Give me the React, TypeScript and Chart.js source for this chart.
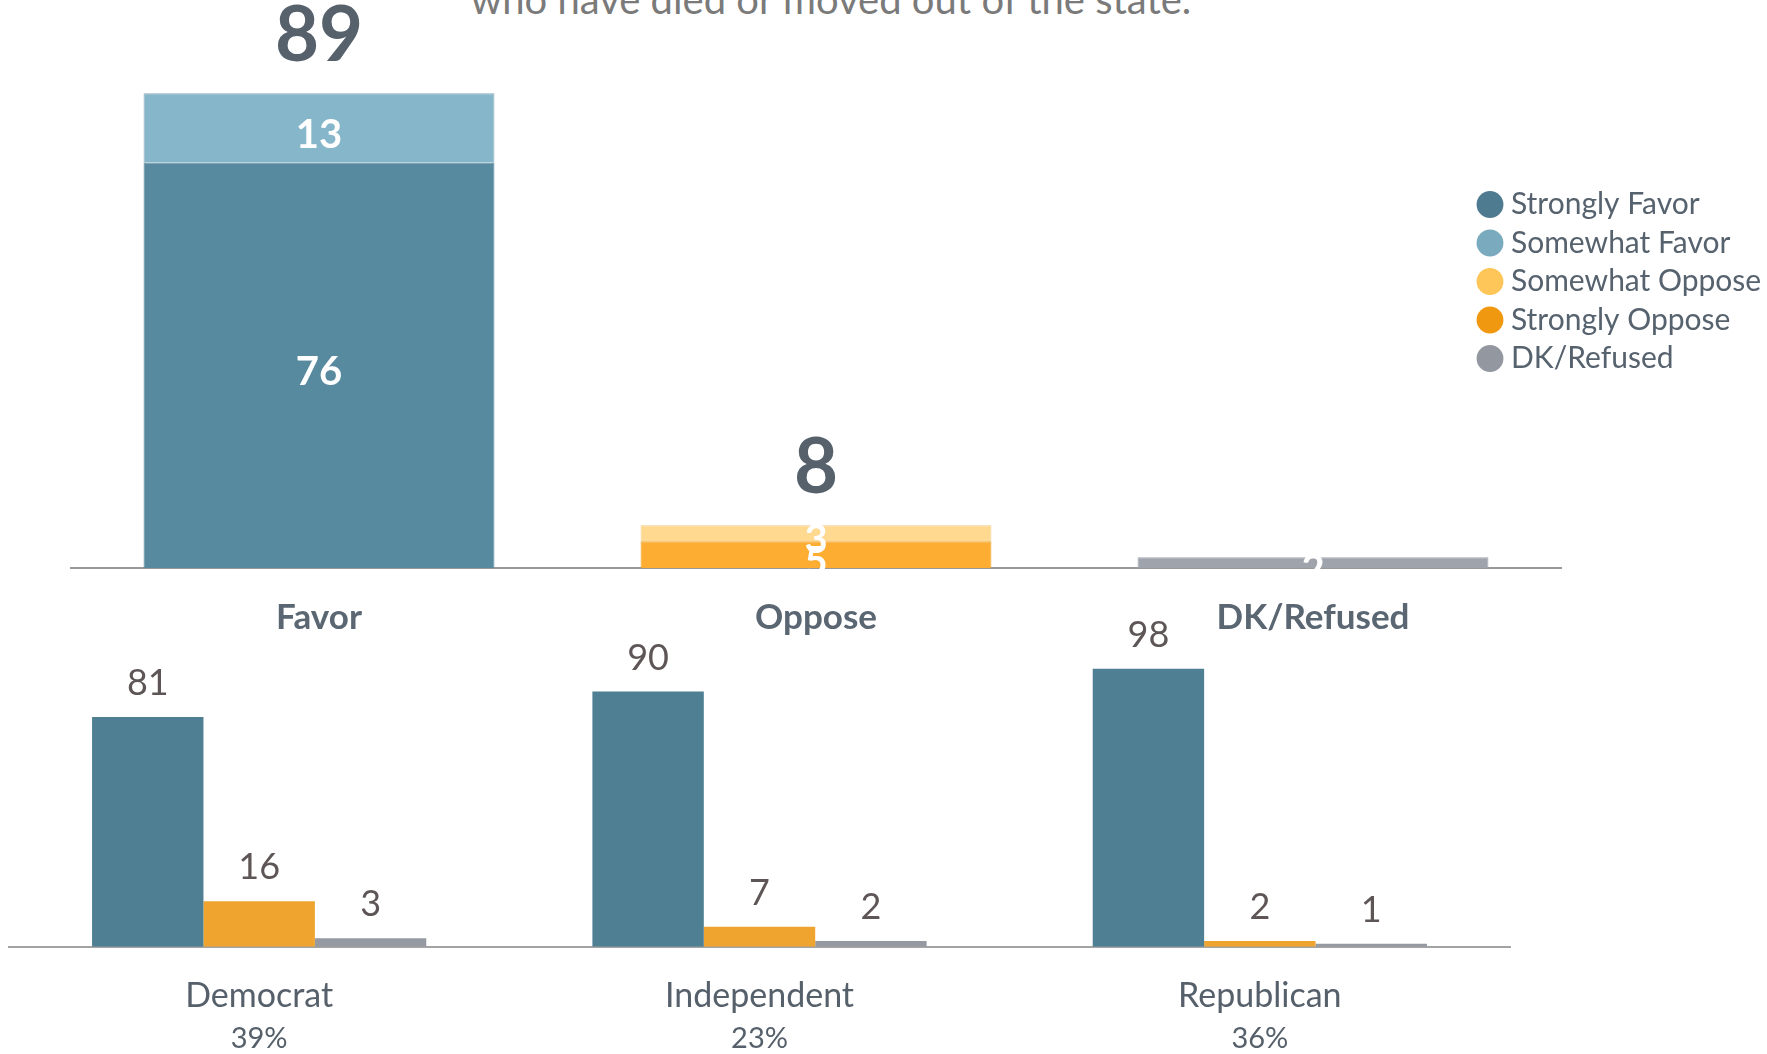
import React, { useEffect, useRef } from "react";
import { Chart, registerables } from "chart.js";

Chart.register(...registerables);

const FONT = "Lato, 'Open Sans', sans-serif";

// ---- Top chart data ----
const topCategories = ["Favor", "Oppose", "DK/Refused"];
const strongFavor = [76, null, null];
const somewhatFavor = [13, null, null];
const strongOppose = [null, 5, null];
const somewhatOppose = [null, 3, null];
const dkRefused = [null, null, 2];
const topTotals = [89, 8, null];

const legendOrder = ["Strongly Favor", "Somewhat Favor", "Somewhat Oppose", "Strongly Oppose", "DK/Refused"];
const legendColors = ["#4e7b8f", "#7aaabe", "#fec658", "#f0980f", "#9398a0"];

// ---- Bottom chart data ----
const partyCategories = ["Democrat", "Independent", "Republican"];
const partyShares = ["39%", "23%", "36%"];
const partyFavor = [81, 90, 98];
const partyOppose = [16, 7, 2];
const partyDK = [3, 2, 1];

const titleLine = "who have died or moved out of the state.";

const TOP_W = 1767;
const TOP_H = 668;
const BOT_TOP = 600;
const BOT_H = 454;

const legendPlacer = {
  id: "legendPlacer",
  afterLayout(chart: any) {
    const lg = chart.legend;
    if (!lg) return;
    const w = lg.width;
    const h = lg.height;
    lg.left = 1475.5;
    lg.top = 181;
    lg.right = lg.left + w;
    lg.bottom = lg.top + h;
  },
};

const topLabels = {
  id: "topLabels",
  afterDatasetsDraw(chart: any) {
    const ctx = chart.ctx;
    ctx.save();
    ctx.textAlign = "center";
    ctx.fillStyle = "#ffffff";
    ctx.font = `bold 40px ${FONT}`;
    ctx.textBaseline = "middle";
    chart.data.datasets.forEach((ds: any, di: number) => {
      const meta = chart.getDatasetMeta(di);
      ds.data.forEach((v: any, i: number) => {
        if (v == null) return;
        const el = meta.data[i];
        ctx.fillText(String(v), el.x, (el.y + el.base) / 2 + 7);
      });
    });
    ctx.fillStyle = "#56616c";
    ctx.font = `bold 76px ${FONT}`;
    ctx.textBaseline = "alphabetic";
    topTotals.forEach((t, i) => {
      if (t == null) return;
      const x = chart.scales.x.getPixelForValue(i);
      const y = chart.scales.y.getPixelForValue(t);
      ctx.fillText(String(t), x, y - 32.5);
    });
    ctx.restore();
  },
};

const botLabels = {
  id: "botLabels",
  afterDatasetsDraw(chart: any) {
    const ctx = chart.ctx;
    ctx.save();
    ctx.textAlign = "center";
    ctx.textBaseline = "alphabetic";
    ctx.fillStyle = "#5e5656";
    ctx.font = `36px ${FONT}`;
    chart.data.datasets.forEach((ds: any, di: number) => {
      const meta = chart.getDatasetMeta(di);
      ds.data.forEach((v: any, i: number) => {
        if (v == null) return;
        const el = meta.data[i];
        ctx.fillText(String(v), el.x, el.y - 22);
      });
    });
    ctx.restore();
  },
};

export default function App() {
  const topRef = useRef<HTMLCanvasElement | null>(null);
  const botRef = useRef<HTMLCanvasElement | null>(null);

  useEffect(() => {
    if (!topRef.current || !botRef.current) return;
    const topChart = new Chart(topRef.current, {
      type: "bar",
      data: {
        labels: topCategories,
        datasets: [
          { label: "Strongly Favor", data: strongFavor, backgroundColor: "#578a9f", borderColor: "#52849a", borderWidth: 1 },
          { label: "Somewhat Favor", data: somewhatFavor, backgroundColor: "#86b6ca", borderColor: "#8aaab6", borderWidth: 1 },
          { label: "Strongly Oppose", data: strongOppose, backgroundColor: "#fcad32", borderColor: "#eca02a", borderWidth: 1 },
          { label: "Somewhat Oppose", data: somewhatOppose, backgroundColor: "#fed98f", borderColor: "#f1cf8e", borderWidth: 1 },
          { label: "DK/Refused", data: dkRefused, backgroundColor: "#9fa4ac", borderColor: "#9fa4ac", borderWidth: 1 },
        ],
      } as any,
      options: {
        responsive: false,
        animation: false,
        layout: { padding: { left: 70.5, right: 205.5, top: 34.6, bottom: 0 } },
        datasets: { bar: { categoryPercentage: 1, barPercentage: 0.706 } } as any,
        scales: {
          x: {
            stacked: true,
            grid: { display: false, drawTicks: false },
            border: { display: true, color: "#999999", width: 2 },
            ticks: { padding: 29, color: "#5a6672", font: { family: FONT, size: 35, weight: "bold" } },
            afterFit: (s: any) => {
              s.height = 100;
            },
          },
          y: { stacked: true, display: false, min: 0, max: 100 },
        } as any,
        plugins: {
          tooltip: { enabled: false },
          legend: {
            position: "chartArea",
            align: "start",
            labels: {
              usePointStyle: true,
              pointStyle: "circle",
              boxWidth: 12,
              boxHeight: 19,
              padding: 8.5,
              color: "#56626e",
              font: { family: FONT, size: 30 },
              generateLabels: (chart: any) =>
                legendOrder.map((name, i) => {
                  const dsIndex = chart.data.datasets.findIndex((d: any) => d.label === name);
                  return {
                    text: name,
                    fillStyle: legendColors[i],
                    strokeStyle: legendColors[i],
                    lineWidth: 0,
                    pointStyle: "circle",
                    hidden: false,
                    datasetIndex: dsIndex,
                    fontColor: "#56626e",
                  };
                }),
            },
          },
        } as any,
      },
      plugins: [legendPlacer, topLabels],
    });

    const botChart = new Chart(botRef.current, {
      type: "bar",
      data: {
        labels: partyCategories,
        datasets: [
          { label: "Favor", data: partyFavor, backgroundColor: "#4f7f93" },
          { label: "Oppose", data: partyOppose, backgroundColor: "#eea42e" },
          { label: "DK/Refused", data: partyDK, backgroundColor: "#9499a2" },
        ],
      },
      options: {
        responsive: false,
        animation: false,
        layout: { padding: { left: 9, right: 257, top: 63.2, bottom: 0.3 } },
        datasets: { bar: { categoryPercentage: 0.668, barPercentage: 1 } } as any,
        scales: {
          x: {
            position: "bottom",
            weight: 0,
            grid: { display: false, drawTicks: false },
            border: { display: true, color: "#a3a3a3", width: 2 },
            ticks: { padding: 29, color: "#56606b", font: { family: FONT, size: 34 } },
            afterFit: (s: any) => {
              s.height = 70;
            },
          },
          x2: {
            type: "category",
            labels: partyShares,
            position: "bottom",
            weight: 1,
            grid: { display: false, drawTicks: false },
            border: { display: false },
            ticks: { padding: 4.5, color: "#56606b", font: { family: FONT, size: 29 } },
            afterFit: (s: any) => {
              s.height = 37;
            },
          },
          y: { display: false, min: 0, max: 100 },
        } as any,
        plugins: { legend: { display: false }, tooltip: { enabled: false } },
      },
      plugins: [botLabels],
    });

    return () => {
      topChart.destroy();
      botChart.destroy();
    };
  }, []);

  return (
    <div style={{ position: "absolute", left: 0, top: 0, width: TOP_W, height: 1054, overflow: "hidden", background: "#ffffff" }}>
      <div
        style={{
          position: "absolute",
          left: 231,
          width: 1200,
          top: -21.5,
          textAlign: "center",
          fontFamily: FONT,
          fontSize: 40,
          lineHeight: "40px",
          color: "#7a7a7a",
          whiteSpace: "nowrap",
        }}
      >
        {titleLine}
      </div>
      <canvas
        ref={topRef}
        width={TOP_W}
        height={TOP_H}
        style={{ position: "absolute", left: 0, top: 0, width: TOP_W, height: TOP_H }}
      />
      <canvas
        ref={botRef}
        width={TOP_W}
        height={BOT_H}
        style={{ position: "absolute", left: 0, top: BOT_TOP, width: TOP_W, height: BOT_H }}
      />
    </div>
  );
}
